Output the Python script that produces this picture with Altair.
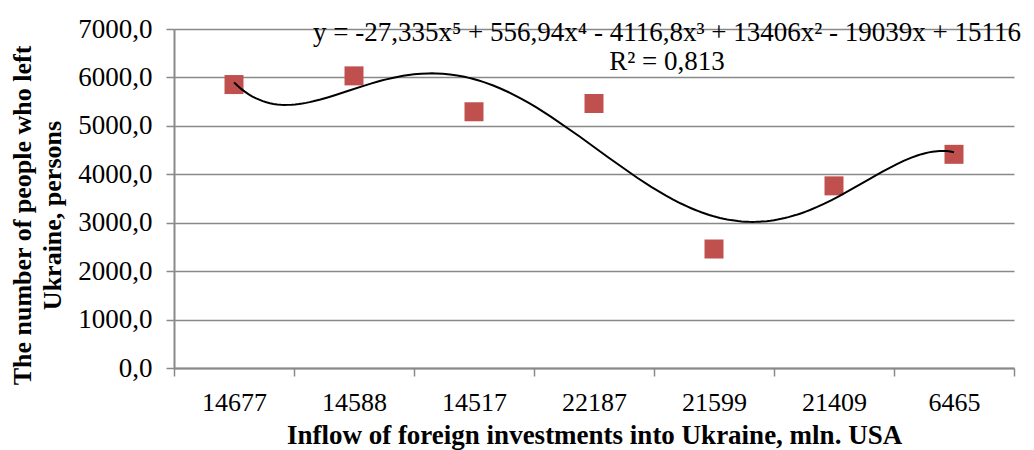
import altair as alt
import pandas as pd

# ---- data ----
categories = ["14677", "14588", "14517", "22187", "21599", "21409", "6465"]
positions = [1, 2, 3, 4, 5, 6, 7]
people_left = [5853, 6032, 5291, 5462, 2457, 3761, 4412]
y_ticks = [0, 1000, 2000, 3000, 4000, 5000, 6000, 7000]
equation = "y = -27,335x⁵ + 556,94x⁴ - 4116,8x³ + 13406x² - 19039x + 15116"
r_squared = "R² = 0,813"
x_title = "Inflow of foreign investments into Ukraine, mln. USA"
y_title = ["The number of people who left", "Ukraine, persons"]

FONT = "Liberation Serif"
GRID = "#898989"

df = pd.DataFrame({"inv": categories, "idx": positions, "people": people_left})
base = alt.Chart(df)

y_enc = alt.Y(
    "people:Q",
    scale=alt.Scale(domain=[0, 7000], nice=False),
    axis=alt.Axis(
        values=y_ticks,
        labelExpr="replace(format(datum.value, '.1f'), '.', ',')",
        title=y_title,
        titleFontWeight="bold",
        titleFontSize=26,
        titleLineHeight=30,
        titlePadding=12,
        titleY=186,
        labelFontSize=27,
        labelPadding=14,
        grid=True,
        gridColor=GRID,
        gridWidth=1.5,
        tickSize=8,
    ),
)

points = base.mark_point(
    shape="square", filled=True, size=361, color="#c0504d", opacity=1
).encode(
    x=alt.X(
        "inv:N",
        sort=categories,
        scale=alt.Scale(type="band", paddingInner=0, paddingOuter=0),
        axis=alt.Axis(
            title=x_title,
            titleFontWeight="bold",
            titleFontSize=27,
            titlePadding=7,
            tickBand="extent",
            grid=False,
            labelAngle=0,
            labelFontSize=26,
            labelPadding=13,
            tickSize=8,
        ),
    ),
    y=y_enc,
)

curve = base.transform_regression(
    "idx", "people", method="poly", order=5, extent=[1, 7]
).mark_line(color="black", strokeWidth=2).encode(
    x=alt.X("idx:Q", scale=alt.Scale(domain=[0.5, 7.5], nice=False, zero=False), axis=None),
    y=alt.Y("people:Q"),
)

eq_text = alt.Chart(pd.DataFrame({"t": [equation]})).mark_text(
    font=FONT, fontSize=27, color="black", align="center", baseline="middle"
).encode(text="t:N", x=alt.value(493), y=alt.value(4))

r2_text = alt.Chart(pd.DataFrame({"t": [r_squared]})).mark_text(
    font=FONT, fontSize=27, color="black", align="center", baseline="middle"
).encode(text="t:N", x=alt.value(493), y=alt.value(33))

chart = (
    alt.layer(points, curve, eq_text, r2_text)
    .resolve_scale(x="independent")
    .properties(
        width=840,
        height=339,
        autosize=alt.AutoSizeParams(type="none"),
        padding={"left": 166, "top": 21, "right": 12, "bottom": 82},
    )
    .configure_view(strokeWidth=0)
    .configure_axis(
        labelFont=FONT,
        titleFont=FONT,
        labelColor="black",
        titleColor="black",
        domainColor=GRID,
        domainWidth=2,
        tickColor=GRID,
        tickWidth=1.5,
    )
)

chart.save("out.html", embed_options={"renderer": "svg", "actions": False})
